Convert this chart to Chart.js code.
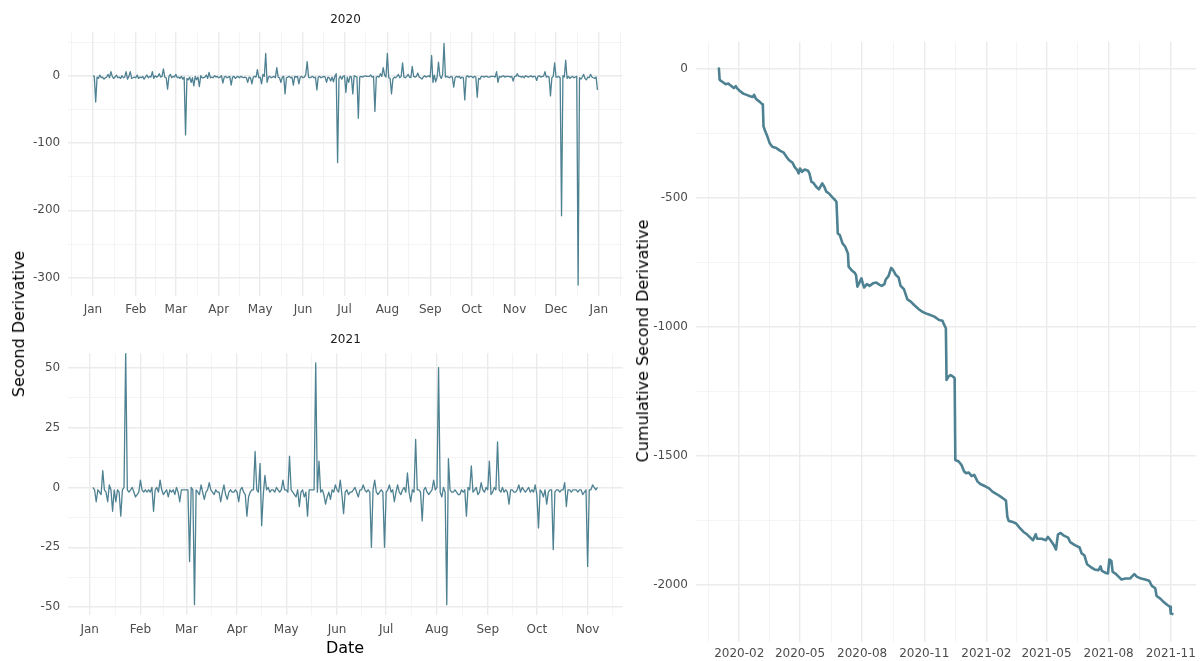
<!DOCTYPE html>
<html>
<head>
<meta charset="utf-8">
<title>Second derivative by year and cumulative</title>
<script src="https://cdn.jsdelivr.net/npm/chart.js@4.4.1/dist/chart.umd.min.js"></script>
<style>
  html, body { margin: 0; padding: 0; background: #ffffff; }
  #wrap { position: relative; width: 1201px; height: 661px; overflow: hidden; font-family: "DejaVu Sans", sans-serif; }
  #wrap canvas { position: absolute; }
  .txt { position: absolute; white-space: nowrap; line-height: 1; transform: translate(-50%, -50%); }
  .strip { font-size: 12px; color: #1a1a1a; }
  .axtitle { font-size: 16px; color: #000000; }
  .rot { transform: translate(-50%, -50%) rotate(-90deg); }
</style>
</head>
<body>
<div id="wrap">
  <canvas id="c2020" width="630" height="325" style="left:0px;top:0px"></canvas>
  <canvas id="c2021" width="630" height="331" style="left:0px;top:330px"></canvas>
  <canvas id="ccum" width="571" height="661" style="left:630px;top:0px"></canvas>
  <div class="txt strip" style="left:345.5px;top:19px">2020</div>
  <div class="txt strip" style="left:345.5px;top:339px">2021</div>
  <div class="txt axtitle" style="left:345px;top:648px">Date</div>
  <div class="txt axtitle rot" style="left:19px;top:324px">Second Derivative</div>
  <div class="txt axtitle rot" style="left:642.5px;top:341px">Cumulative Second Derivative</div>
</div>
<script>
// ---- daily second derivative, 2020 (one value per day from 1 Jan) ----
const secondDeriv2020 = [
  0, -1, -39, -2, -4, 1, -3, -2, -5, -3,
  -2, 2, -3, 6, -1, -4, -2, 1, -3, -2,
  -4, 0, -3, -2, 6, -5, -1, 6, -4, -3,
  -2, -3, 1, -4, -2, -3, -1, -5, -2, 1,
  -3, -1, -2, 6, -4, 0, -2, -1, 3, -2,
  -1, 10, -2, -3, -20, -1, 2, -3, -1, -2,
  2, -3, -2, -4, -1, -5, -2, -88, -4, -6,
  -2, -10, -3, -15, -1, -6, -2, -16, 0, -3,
  -3, -2, 1, -4, 5, -3, -2, -3, 0, -2,
  -1, -3, -2, 0, -11, -2, -1, -3, -2, -1,
  -14, -2, -1, -4, -2, -1, -3, -1, -2, -3,
  -2, -3, -10, -2, -3, -12, -2, -1, -2, 9,
  -3, -2, -12, 2, -1, 33, -10, -2, -1, -3,
  -2, -1, -3, 12, -2, -3, -10, -2, -1, -27,
  -3, -2, -1, -3, -2, -14, -1, -2, -1, -12,
  -2, -1, -3, -2, 2, 21, -2, -3, -2, -1,
  -3, -2, -21, -2, -1, -3, -2, -1, -2, -10,
  -2, -3, -8, -2, -9, -1, 3, -129, -4, -1,
  -5, -1, 0, -25, -2, -10, -1, -2, -27, 0,
  -1, -2, -63, -2, -1, -2, -1, 0, -1, -1,
  -1, 1, -2, -1, -53, -2, -1, -2, 3, -1,
  12, 1, -2, 33, -3, -4, -27, -5, -2, -3,
  -1, 2, -3, -1, 19, -2, -3, -1, 2, -2,
  -3, 14, -1, -2, -1, 4, -2, -3, -5, -2,
  0, -2, -1, 0, -2, 30, -10, 1, -9, -2,
  20, 0, -4, 2, 48, -2, -1, -2, -3, -1,
  -2, -17, -3, -1, -2, -1, -4, -2, -3, -36,
  -2, 0, -2, -1, -1, -3, -1, -2, -32, -4,
  -5, -1, -1, -2, -1, -1, -2, -2, -1, -1,
  -1, -2, 6, -10, -1, -2, -1, 0, -2, -1,
  -1, -1, -2, -1, -8, -1, -1, 3, -1, -1,
  -2, -1, -3, 0, -1, -2, -1, 0, -2, -1,
  -1, -7, -1, 0, -2, -1, -1, 6, -2, -1,
  -2, -30, -3, -1, 19, -2, -2, -1, -3, -208,
  0, -2, 23, -4, -1, -4, -2, -1, -3, -2,
  -1, -311, -3, -5, -2, 2, -4, -6, -2, -3,
  2, -2, -3, -4, -2, -21
];

// ---- daily second derivative, 2021 (from 3 Jan) ----
const start2021 = 2;
const secondDeriv2021 = [
  0, -1, -6, -1, -2, -3, 7, -1,
  -2, -6, 1, -1, -10, -1, -6, -1, -2, -12,
  -1, 0, 57, -1, -2, -1, 0, -2, -4, -3,
  -2, 3, -1, -2, -1, -2, -1, -2, 0, -10,
  -1, 0, -2, 3, -1, -3, -2, -1, -4, -1,
  -2, -1, -3, 0, -2, -6, -1, -1, -1, -1,
  -1, -31, 0, -1, -49, -1, -2, -3, 1, -2,
  -5, -2, -1, 2, -1, -2, -3, -1, -2, -2,
  -6, -2, 1, -3, -5, -2, -1, -2, -2, -1,
  -2, -6, -1, 0, -2, -3, -12, -4, -2, -1,
  -1, 15, -1, -2, 10, -16, -3, 5, -1, 0,
  -2, -1, -1, -2, 0, -1, -2, -1, 3, -1,
  -1, -2, 13, -1, -2, -3, -4, -1, -8, -2,
  -1, -4, -2, -12, -1, -1, -1, -1, 52, -2,
  11, -2, -1, -3, -7, -4, -2, -5, -1, -2,
  1, -1, -2, 3, -3, -11, -2, -1, -3, -2,
  -2, -1, 0, -2, -4, -1, -1, 1, -1, -2,
  -1, -2, -25, -1, 3, -2, -3, -2, -1, -2,
  -25, -2, -1, 1, -2, -1, -6, -2, 1, -2,
  -3, -1, 0, -2, 6, -2, -6, -1, -2, 20,
  -1, -1, -2, -14, -1, 0, -2, -3, -2, -1,
  3, -1, 0, 50, -2, -4, 0, -2, -49, 12,
  -1, -2, -2, -1, -2, -3, -3, -1, -2, -1,
  -12, 0, -1, 9, -2, -1, 0, -3, -2, 2,
  -1, -2, 0, -1, 11, -3, -2, 0, -1, 19,
  -1, -2, 0, -2, -1, -2, -7, -1, -1, -2,
  -2, -1, 1, -2, 0, -1, -2, -1, 0, -2,
  -1, -2, 1, -3, -17, -1, -2, -4, -1, -7,
  -2, -1, -1, -26, -2, -1, -1, -2, -1, -1,
  2, -8, -1, -1, -2, -1, -1, -1, -2, -1,
  -1, -3, -2, -1, -33, -1, -1, 1, 0, -1,
  0
];

// ---- cumulative second derivative (day counted from 1 Jan 2020) ----
const cumDay = [
  0, 1, 2, 4, 7, 11, 15, 17, 21, 23,
  26, 28, 32, 37, 42, 47, 51, 53, 56, 61,
  65, 66, 67, 69, 72, 76, 80, 86, 92, 97,
  101, 105, 110, 113, 117, 119, 121, 124, 128, 133,
  135, 138, 141, 145, 149, 154, 157, 160, 164, 169,
  172, 175, 177, 180, 184, 188, 192, 193, 197, 202,
  204, 206, 209, 212, 214, 216, 220, 224, 229, 234,
  239, 242, 246, 248, 252, 256, 259, 263, 267, 270,
  275, 280, 285, 290, 297, 302, 310, 320, 327, 332,
  334, 337, 338, 341, 344, 349, 350, 351, 356, 360,
  364, 367, 371, 375, 379, 384, 388, 396, 401, 406,
  412, 418, 424, 426, 428, 430, 436, 441, 446, 452,
  457, 462, 466, 470, 472, 479, 485, 488, 492, 497,
  500, 503, 507, 511, 518, 521, 528, 535, 538, 542,
  546, 551, 557, 563, 566, 568, 574, 577, 579, 582,
  584, 588, 593, 597, 603, 610, 612, 616, 620, 626,
  632, 638, 642, 647, 649, 654, 659, 665, 669, 670,
  674
];
const cumValue = [
  0, -2, -43, -48, -53, -61, -58, -63, -71, -76,
  -68, -77, -87, -97, -102, -107, -110, -102, -118, -128,
  -138, -139, -224, -239, -258, -288, -303, -308, -319, -326,
  -342, -355, -365, -381, -394, -406, -387, -400, -391, -396,
  -406, -439, -443, -458, -468, -445, -458, -477, -484, -499,
  -507, -516, -639, -645, -677, -690, -716, -767, -780, -791,
  -800, -845, -829, -813, -832, -848, -835, -842, -832, -829,
  -838, -842, -835, -817, -804, -772, -781, -800, -809, -842,
  -855, -894, -903, -916, -932, -942, -951, -961, -974, -977,
  -990, -1006, -1206, -1193, -1187, -1196, -1200, -1516, -1522, -1535,
  -1561, -1567, -1565, -1578, -1574, -1600, -1609, -1619, -1626, -1639,
  -1648, -1658, -1669, -1674, -1736, -1752, -1756, -1762, -1778, -1795,
  -1804, -1817, -1827, -1804, -1821, -1821, -1827, -1814, -1827, -1846,
  -1863, -1804, -1799, -1808, -1817, -1834, -1846, -1855, -1878, -1885,
  -1920, -1930, -1940, -1943, -1928, -1946, -1954, -1956, -1902, -1907,
  -1950, -1956, -1969, -1979, -1975, -1975, -1969, -1958, -1969, -1975,
  -1979, -1984, -2004, -2013, -2043, -2052, -2065, -2078, -2085, -2111,
  -2114
];

// ---- tick labels ----
const monthLabels2020 = ['Jan', 'Feb', 'Mar', 'Apr', 'May', 'Jun', 'Jul', 'Aug', 'Sep', 'Oct', 'Nov', 'Dec', 'Jan'];
const monthLabels2021 = ['Jan', 'Feb', 'Mar', 'Apr', 'May', 'Jun', 'Jul', 'Aug', 'Sep', 'Oct', 'Nov'];
const cumDateLabels = ['2020-02', '2020-05', '2020-08', '2020-11', '2021-02', '2021-05', '2021-08', '2021-11'];
const yBreaks2020 = [0, -100, -200, -300];
const yBreaks2021 = [50, 25, 0, -25, -50];
const yBreaksCum = [0, -500, -1000, -1500, -2000];

// value-axis limits of each panel
const yRange2020 = [-327.2, 64.5];
const yRange2021 = [-53.3, 56];
const yRangeCum = [-2220, 104];

// ---- helpers ----
const LINE_COLOR = '#4e8192';
const TICK_COLOR = '#4d4d4d';
const GRID_MAJOR = '#ebebeb';
const GRID_MINOR = '#efefef';
const DAY_MS = 864e5;
const dayOffset = (y, m, d, y0) => (Date.UTC(y, m, d) - Date.UTC(y0, 0, 1)) / DAY_MS;

function expand(lo, hi) {
  const pad = (hi - lo) * 0.05;
  return [lo - pad, hi + pad];
}

// month breaks on the first of the month, minor breaks halfway between
function monthTicks(year, labels, lo, hi) {
  const starts = [];
  for (let m = -1; m <= labels.length; m++) starts.push(dayOffset(year, m, 1, year));
  const ticks = labels.map((l, i) => ({ value: starts[i + 1], label: l, isMinor: false }));
  for (let i = 0; i + 1 < starts.length; i++) {
    ticks.push({ value: (starts[i] + starts[i + 1]) / 2, label: '', isMinor: true });
  }
  return ticks.filter(t => t.value >= lo && t.value <= hi).sort((a, b) => a.value - b.value);
}

// quarterly breaks labelled YYYY-MM, minor breaks halfway between
function quarterTicks(labels, lo, hi) {
  const pos = labels.map(s => dayOffset(+s.slice(0, 4), +s.slice(5) - 1, 1, 2020));
  const first = labels[0], last = labels[labels.length - 1];
  const all = [dayOffset(+first.slice(0, 4), +first.slice(5) - 4, 1, 2020), ...pos,
               dayOffset(+last.slice(0, 4), +last.slice(5) + 2, 1, 2020)];
  const ticks = labels.map((l, i) => ({ value: pos[i], label: l, isMinor: false }));
  for (let i = 0; i + 1 < all.length; i++) {
    ticks.push({ value: (all[i] + all[i + 1]) / 2, label: '', isMinor: true });
  }
  return ticks.filter(t => t.value >= lo && t.value <= hi).sort((a, b) => a.value - b.value);
}

function valueTicks(breaks, lo, hi) {
  const step = Math.abs(breaks[1] - breaks[0]);
  const ticks = breaks.map(v => ({ value: v, label: String(v), isMinor: false }));
  const sorted = [...breaks].sort((a, b) => a - b);
  sorted.forEach(v => ticks.push({ value: v - step / 2, label: '', isMinor: true }));
  ticks.push({ value: sorted[sorted.length - 1] + step / 2, label: '', isMinor: true });
  return ticks.filter(t => t.value >= lo && t.value <= hi).sort((a, b) => a.value - b.value);
}

function axis(range, ticks, fixedSize, horizontal, padding) {
  return {
    type: 'linear',
    min: range[0],
    max: range[1],
    bounds: 'data',
    border: { display: false },
    grid: {
      drawTicks: false,
      color: c => (c.tick && c.tick.isMinor) ? GRID_MINOR : GRID_MAJOR,
      lineWidth: c => (c.tick && c.tick.isMinor) ? 0.7 : 1.4
    },
    ticks: {
      autoSkip: false,
      maxRotation: 0,
      minRotation: 0,
      padding: padding,
      color: TICK_COLOR,
      font: { family: 'DejaVu Sans', size: 12 },
      callback: (v, i, arr) => arr[i].label
    },
    afterBuildTicks: s => { s.ticks = ticks.map(t => ({ ...t })); },
    afterFit: s => { if (horizontal) s.height = fixedSize; else s.width = fixedSize; }
  };
}

function panel(id, points, lineWidth, xScale, yScale, padding) {
  return new Chart(document.getElementById(id), {
    type: 'line',
    data: {
      datasets: [{
        data: points,
        borderColor: LINE_COLOR,
        borderWidth: lineWidth,
        borderJoinStyle: 'round',
        pointRadius: 0,
        tension: 0,
        fill: false
      }]
    },
    options: {
      responsive: false,
      animation: false,
      devicePixelRatio: 1,
      parsing: false,
      normalized: true,
      layout: { padding: padding },
      plugins: { legend: { display: false }, tooltip: { enabled: false } },
      scales: { x: xScale, y: yScale }
    }
  });
}

// ---- 2020 panel ----
const pts2020 = secondDeriv2020.map((v, i) => ({ x: i, y: v }));
const xr2020 = expand(0, secondDeriv2020.length - 1);
panel('c2020', pts2020, 1.3,
  axis(xr2020, monthTicks(2020, monthLabels2020, xr2020[0], xr2020[1]), 29, true, 7),
  axis(yRange2020, valueTicks(yBreaks2020, yRange2020[0], yRange2020[1]), 67.7, false, 7.5),
  { top: 32.3, right: 7.3, left: 0, bottom: 0 });

// ---- 2021 panel ----
const pts2021 = secondDeriv2021.map((v, i) => ({ x: start2021 + i, y: v }));
const xr2021 = expand(start2021, start2021 + secondDeriv2021.length - 1);
panel('c2021', pts2021, 1.3,
  axis(xr2021, monthTicks(2021, monthLabels2021, xr2021[0], xr2021[1]), 46, true, 8),
  axis(yRange2021, valueTicks(yBreaks2021, yRange2021[0], yRange2021[1]), 67.7, false, 7.5),
  { top: 23.3, right: 7.3, left: 0, bottom: 0 });

// ---- cumulative panel ----
const ptsCum = cumDay.map((d, i) => ({ x: d, y: cumValue[i] }));
const xrCum = expand(cumDay[0], cumDay[cumDay.length - 1]);
panel('ccum', ptsCum, 2.6,
  axis(xrCum, quarterTicks(cumDateLabels, xrCum[0], xrCum[1]), 19.3, true, 5),
  axis(yRangeCum, valueTicks(yBreaksCum, yRangeCum[0], yRangeCum[1]), 65.5, false, 7.5),
  { top: 41.7, right: 3, left: 0, bottom: 0 });
</script>
</body>
</html>
